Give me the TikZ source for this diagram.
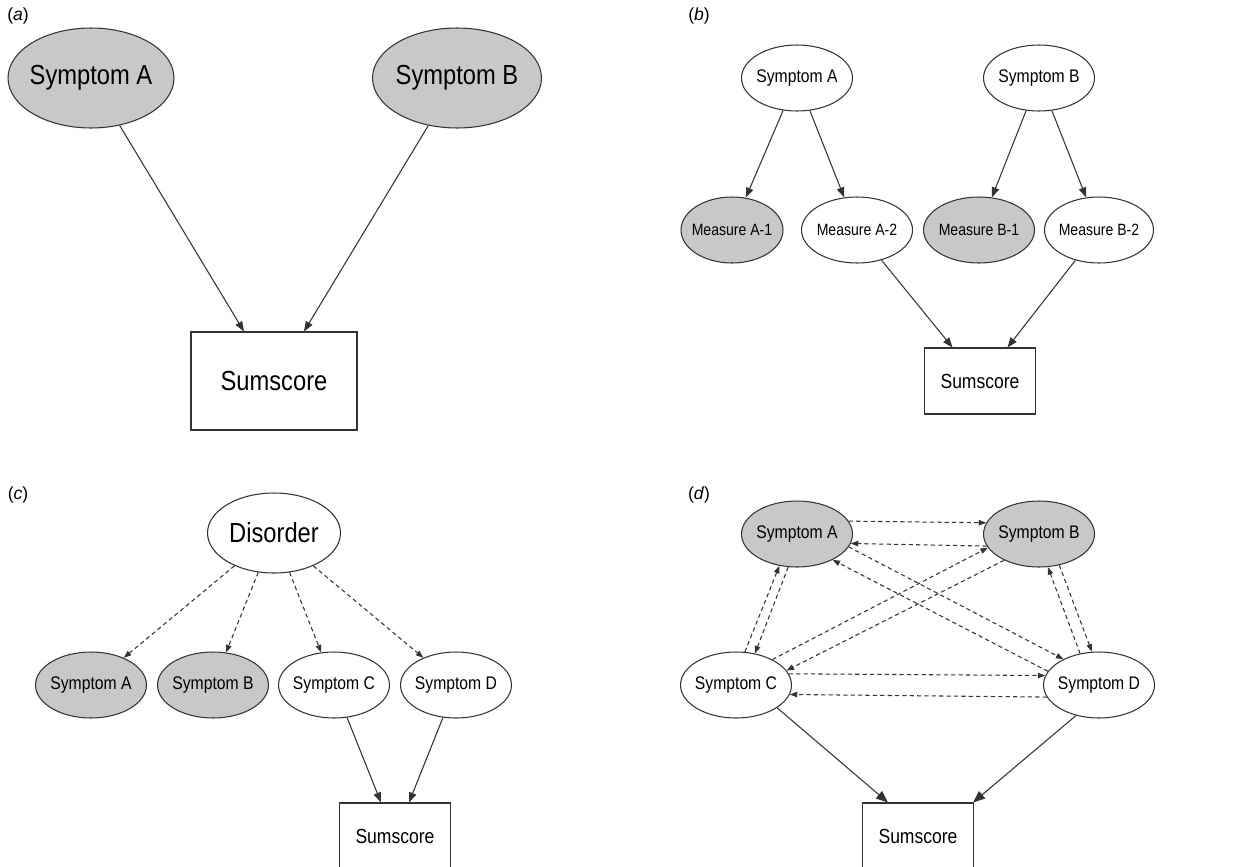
\documentclass[tikz,border=0pt]{standalone}
\usepackage{graphicx}
\usepackage{fontspec}
\setmainfont{Liberation Sans}
\usetikzlibrary{arrows.meta}
\usetikzlibrary{shapes.geometric}
\definecolor{shade}{RGB}{200,200,200}
\tikzset{ell/.style = {draw = black!80, ellipse, inner sep = 0, minimum width = 2.22cm, minimum height = 1.32cm}}
\tikzset{grey/.style = {fill = shade}}
\tikzset{box/.style = {draw = black!80, rectangle, inner sep = 0, minimum width = 2.22cm, minimum height = 1.32cm}}
\tikzset{arr/.style = {black!80, -{Triangle[length = 0.2cm, width = 0.15cm]}}}
\tikzset{barr/.style = {black!80, -{Triangle[length = 0.24cm, width = 0.19cm]}}}
\tikzset{darr/.style = {black!80, dash pattern = on 2.4pt off 1.8pt, -{Triangle[length = 0.15cm, width = 0.11cm]}}}
\tikzset{big/.style = {font = \fontsize{15.7}{18}\selectfont}}
\tikzset{mid/.style = {font = \fontsize{10.4}{12}\selectfont}}
\tikzset{small/.style = {font = \fontsize{9.3}{11}\selectfont}}
\tikzset{sum/.style = {font = \fontsize{11.6}{14}\selectfont}}
\tikzset{tag/.style = {font = \fontsize{10}{12}\selectfont}}
\newcommand{\nb}[1]{\makebox[0pt]{\scalebox{0.86}[1]{#1}}}

\begin{document}
\begin{tikzpicture}[x = 0.02cm, y = -0.02cm, line width = 0.6pt]
    \useasboundingbox (0, 0) rectangle (1254, 866);
    % panel a
    \node [tag] (la) at (18, 16) {(\textit{a})};
    \node [ell, grey, big, minimum width = 3.32cm, minimum height = 2cm] (aA) at (91, 78) {\nb{Symptom A}};
    \node [ell, grey, big, minimum width = 3.38cm, minimum height = 2cm] (aB) at (457, 78) {\nb{Symptom B}};
    \node [box, big, minimum width = 3.32cm, minimum height = 1.96cm] (aS) at (274, 381) {\nb{Sumscore}};
    \draw [arr] (aA) -- ([xshift = -0.6cm] aS.north);
    \draw [arr] (aB) -- ([xshift = 0.6cm] aS.north);
    % panel b
    \node [tag] (lb) at (699, 16) {(\textit{b})};
    \node [ell, mid] (bA) at (797, 78) {\nb{Symptom A}};
    \node [ell, mid] (bB) at (1039, 78) {\nb{Symptom B}};
    \node [ell, grey, small, minimum width = 2.04cm] (bA1) at (732, 230) {\nb{Measure A-1}};
    \node [ell, small] (bA2) at (857, 230) {\nb{Measure A-2}};
    \node [ell, grey, small] (bB1) at (979, 230) {\nb{Measure B-1}};
    \node [ell, small, minimum width = 2.18cm] (bB2) at (1099, 230) {\nb{Measure B-2}};
    \node [box, sum] (bS) at (980, 381) {\nb{Sumscore}};
    \foreach \s/\t in {bA/bA1, bA/bA2, bB/bB1, bB/bB2}{
      \draw [arr] (\s) -- (\t);
    }
    \draw [arr] (bA2) -- ([xshift = -0.55cm] bS.north);
    \draw [arr] (bB2) -- ([xshift = 0.55cm] bS.north);
    % panel c
    \node [tag] (lc) at (18, 495) {(\textit{c})};
    \node [ell, big, minimum width = 2.66cm, minimum height = 1.6cm] (cDis) at (274, 533) {\nb{Disorder}};
    \node [ell, grey, mid] (cA) at (91, 685) {\nb{Symptom A}};
    \node [ell, grey, mid] (cB) at (213, 685) {\nb{Symptom B}};
    \node [ell, mid] (cC) at (334, 685) {\nb{Symptom C}};
    \node [ell, mid] (cD) at (456, 685) {\nb{Symptom D}};
    \node [box, sum] (cS) at (395, 836) {\nb{Sumscore}};
    \foreach \t in {cA, cB, cC, cD}{
      \draw [darr] (cDis) -- (\t);
    }
    \draw [arr] (cC) -- ([xshift = -0.28cm] cS.north);
    \draw [arr] (cD) -- ([xshift = 0.28cm] cS.north);
    % panel d
    \node [tag] (ld) at (699, 495) {(\textit{d})};
    \node [ell, grey, mid] (dA) at (797, 534) {\nb{Symptom A}};
    \node [ell, grey, mid] (dB) at (1039, 534) {\nb{Symptom B}};
    \node [ell, mid] (dC) at (736, 685) {\nb{Symptom C}};
    \node [ell, mid] (dD) at (1099, 685) {\nb{Symptom D}};
    \node [box, sum] (dS) at (918, 836) {\nb{Sumscore}};
    \foreach \s/\sa/\t/\ta in {dA/14/dB/168, dB/193/dA/350, dA/346/dD/144, dD/165/dA/324,
                                dC/35/dB/195, dB/217/dC/16, dC/12/dD/170, dD/193/dC/350,
                                dC/75/dA/241, dA/255/dC/59, dB/303/dD/102, dD/121/dB/285}{
      \draw [darr] (\s.\sa) -- (\t.\ta);
    }
    \draw [barr] (dC.331) -- ([xshift = -0.6cm] dS.north);
    \draw [barr] (dD.233) -- ([xshift = 1.1cm] dS.north);
\end{tikzpicture}
\end{document}
